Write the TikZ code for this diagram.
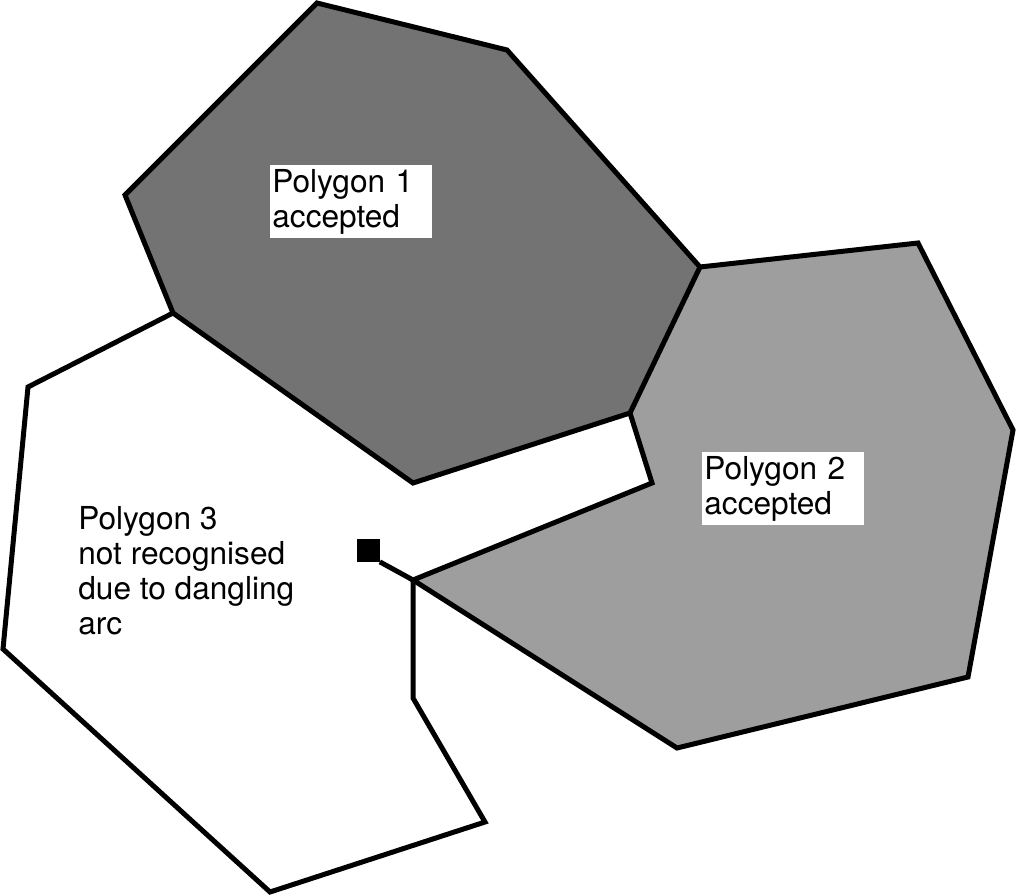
\documentclass[tikz,border=0pt]{standalone}
\usepackage{fontspec}
\setmainfont{TeX Gyre Heros}
\begin{document}
\begin{tikzpicture}[x=0.02cm,y=-0.02cm,
  edge/.style={line width=0.1cm,line join=miter,black},
  darkfill/.style={fill=black!55},
  lightfill/.style={fill=black!38},
  plabel/.style={font=\fontsize{18pt}{19.9pt}\selectfont,align=left,inner xsep=0.04cm,inner ysep=0.08cm,anchor=north west},
  boxlabel/.style={plabel,fill=white,text width=158*0.02cm},
  danglebox/.style={fill=black,minimum size=0.46cm,inner sep=0pt}]
\useasboundingbox (0,0) rectangle (1016,895);
% vertices
\coordinate (a1) at (317,3);
\coordinate (a2) at (507,50);
\coordinate (t)  at (700,267);
\coordinate (a4) at (630,413);
\coordinate (a5) at (413,483);
\coordinate (s)  at (173,313);
\coordinate (a7) at (125,195);
\coordinate (b2) at (918,243);
\coordinate (b3) at (1013,430);
\coordinate (b4) at (968,677);
\coordinate (b5) at (677,748);
\coordinate (j)  at (413,580);
\coordinate (b7) at (652,483);
\coordinate (c2) at (28,387);
\coordinate (c3) at (3,649);
\coordinate (c4) at (270,892);
\coordinate (c5) at (485,822);
\coordinate (c6) at (413,698);
% fills
\fill[darkfill] (a1) -- (a2) -- (t) -- (a4) -- (a5) -- (s) -- (a7) -- cycle;
\fill[lightfill] (t) -- (b2) -- (b3) -- (b4) -- (b5) -- (j) -- (b7) -- (a4) -- cycle;
% outlines
\draw[edge] (a1) -- (a2) -- (t) -- (a4) -- (a5) -- (s) -- (a7) -- cycle;
\draw[edge] (t) -- (b2) -- (b3) -- (b4) -- (b5) -- (j) -- (b7) -- (a4);
\draw[edge] (s) -- (c2) -- (c3) -- (c4) -- (c5) -- (c6) -- (j);
% dangling arc
\node[danglebox] (sq) at (368,550) {};
\draw[edge] (j) -- (sq.south east);
% labels
\node[boxlabel] (l1) at (270,165) {Polygon 1\\accepted};
\node[boxlabel] (l2) at (702,452) {Polygon 2\\accepted};
\node[plabel] (l3) at (76,502) {Polygon 3\\not recognised\\due to dangling\\arc};
\end{tikzpicture}
\end{document}
